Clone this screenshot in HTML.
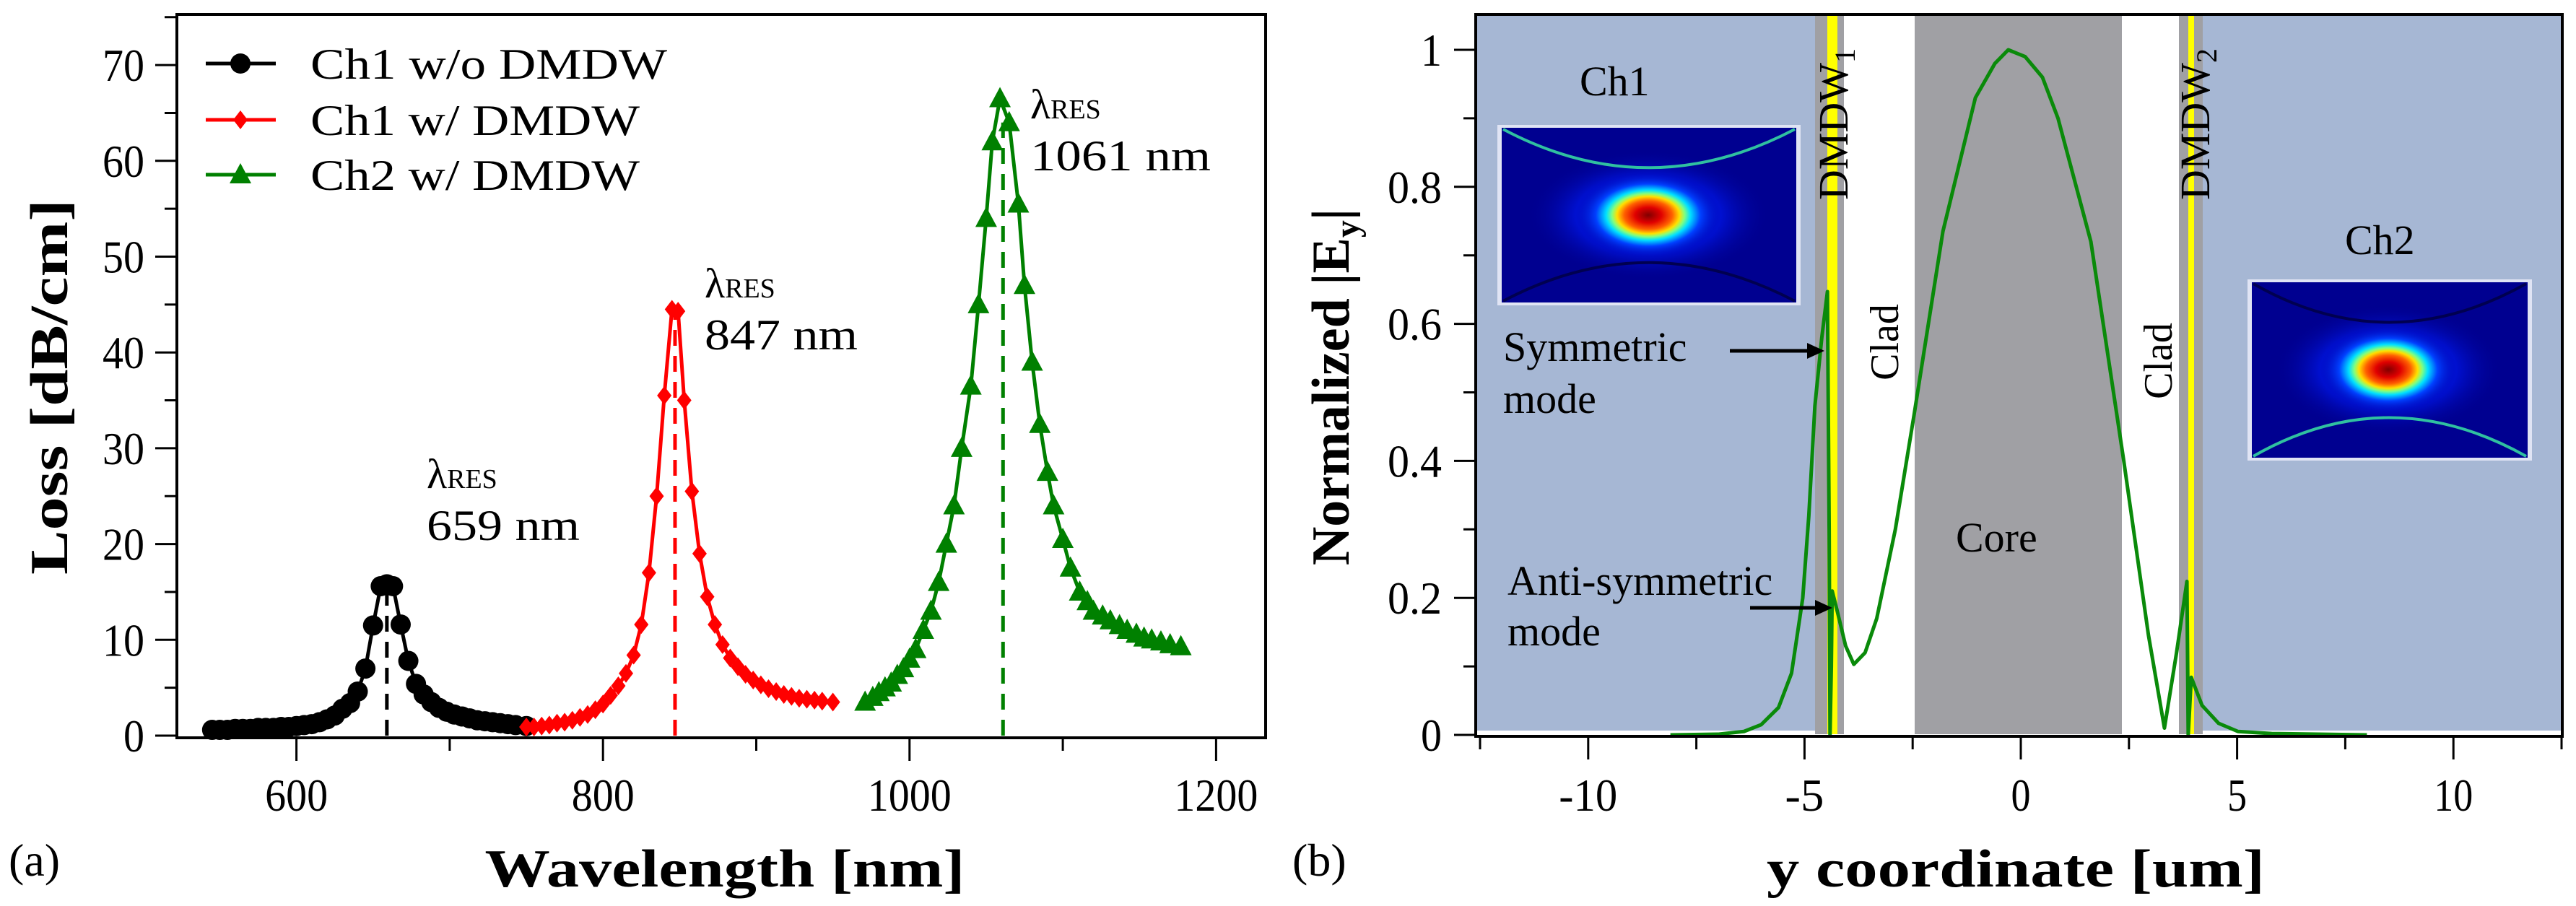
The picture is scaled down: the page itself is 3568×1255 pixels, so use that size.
<!DOCTYPE html>
<html><head><meta charset="utf-8"><style>
html,body{margin:0;padding:0;background:#fff}
svg{display:block}
text{font-family:"Liberation Serif","Times New Roman",Times,serif}
</style></head><body>
<svg id="svg" width="3568" height="1255" viewBox="0 0 3568 1255" xmlns="http://www.w3.org/2000/svg" font-family="Liberation Serif, Times New Roman, serif">
<defs>
<radialGradient id="blob" cx="0.5" cy="0.5" r="0.5">
<stop offset="0" stop-color="#800000"/><stop offset="0.18" stop-color="#e00000"/><stop offset="0.33" stop-color="#ff6000"/><stop offset="0.43" stop-color="#ffe000"/><stop offset="0.5" stop-color="#80ff80"/><stop offset="0.58" stop-color="#00e0ff"/><stop offset="0.72" stop-color="#0040ff"/><stop offset="1" stop-color="#0000a8" stop-opacity="0"/>
</radialGradient>
<radialGradient id="glow" cx="0.5" cy="0.5" r="0.5">
<stop offset="0" stop-color="#0030ff"/><stop offset="0.6" stop-color="#0010d0"/><stop offset="1" stop-color="#000090" stop-opacity="0"/>
</radialGradient>
</defs>
<g id="left"></g>
<g id="right"></g>
</svg>
<script>
// ---------- Left chart data ----------
const blackX=[545,550,555,560,565,570,575,580,585,590,595,600,605,610,615,620,625,630,635,640,645,650,655,659,663,668,673,678,683,688,693,698,703,708,713,718,723,728,733,738,743,750];
const blackY=[0.6,0.6,0.6,0.7,0.7,0.7,0.8,0.8,0.8,0.9,0.9,1.0,1.1,1.2,1.4,1.7,2.1,2.8,3.4,4.6,7.0,11.5,15.6,15.8,15.6,11.6,7.8,5.4,4.3,3.5,2.9,2.5,2.2,2.0,1.8,1.6,1.5,1.4,1.3,1.2,1.1,1.0];
const redX=[750,755,760,765,770,775,780,785,790,795,800,805,810,815,820,825,830,835,840,845,849,853,858,863,868,873,878,883,888,893,898,903,908,913,918,923,928,933,938,943,950];
const redY=[0.9,0.9,1.0,1.1,1.3,1.4,1.6,1.9,2.2,2.7,3.3,4.2,5.2,6.5,8.4,11.6,17,25,35.5,44.5,44.3,35,25.5,19,14.5,11.6,9.5,8.1,7.2,6.4,5.8,5.3,4.9,4.6,4.3,4.1,3.9,3.8,3.7,3.6,3.5];
const greenX=[971,976,980,984,988,992,996,1000,1004,1009,1014,1019,1024,1029,1034,1040,1045,1050,1054,1059,1065,1071,1075,1080,1085,1090,1094,1100,1105,1111,1116,1120,1126,1131,1137,1142,1148,1153,1158,1164,1170,1177];
const greenY=[3.5,4.0,4.5,5.0,5.5,6.3,7,8,9,11,13,16,20,24,30,36.5,45,54,62,66.5,64,55.5,47,39,32.5,27.5,24,20.5,17.5,15,14,13,12.5,12,11.5,11,10.6,10.2,10,9.8,9.5,9.3];
const resWl=[659,847,1061];
const resPeak=[15.8,44.5,64];
const resLabels=["659 nm","847 nm","1061 nm"];
const lossTicks=[0,10,20,30,40,50,60,70];
const wlTicks=[600,800,1000,1200];
// ---------- Right chart data ----------
const fieldX=[-8.1,-7,-6.4,-6,-5.6,-5.3,-5.04,-4.9,-4.76,-4.6,-4.47,-4.43,-4.41,-4.38,-4.36,-4.24,-4.05,-3.86,-3.6,-3.33,-2.9,-2.47,-1.8,-1.05,-0.6,-0.29,0.1,0.5,0.86,1.62,2.38,2.95,3.32,3.6,3.84,3.87,3.94,4.19,4.57,5.02,5.8,8];
const fieldY=[0,0.001,0.005,0.015,0.04,0.09,0.2,0.32,0.48,0.58,0.647,0.3,0,0.1,0.21,0.18,0.13,0.103,0.12,0.17,0.3,0.466,0.735,0.93,0.98,1.0,0.99,0.96,0.9,0.72,0.4,0.146,0.01,0.12,0.224,0,0.084,0.043,0.017,0.005,0.002,0];
const fieldXTicks=[-10,-5,0,5,10];
const fieldYTicks=[0,0.2,0.4,0.6,0.8,1];
const fieldYLabels=["0","0.2","0.4","0.6","0.8","1"];

const NS="http://www.w3.org/2000/svg";
function mk(parent,tag,attrs,txt){const e=document.createElementNS(NS,tag);for(const k in attrs)e.setAttribute(k,attrs[k]);if(txt!==undefined)e.textContent=txt;parent.appendChild(e);return e;}

// ===== LEFT =====
const L=document.getElementById('left');
const lx=v=>245+(v-522)*2.123, ly=v=>1019-v*13.27;
let el;
el=mk(L,'rect',{x:245,y:20,width:1508,height:1002,fill:'none',stroke:'#000','stroke-width':4});


for(let v=0;v<=75;v+=5){const maj=v%10===0;
 el=mk(L,'line',{x1:245-(maj?30:17),x2:245,y1:ly(v),y2:ly(v),stroke:'#000','stroke-width':3});
 
 }
lossTicks.forEach(v=>{const s=String(v);el=mk(L,'text',{x:200,y:ly(v)+22,'font-size':64,'text-anchor':'end',textLength:s.length*29,lengthAdjust:'spacingAndGlyphs'},s);
 
 });
for(let v=600;v<=1200;v+=100){const maj=v%200===0;
 el=mk(L,'line',{x1:lx(v),x2:lx(v),y1:1022,y2:1022+(maj?32:18),stroke:'#000','stroke-width':3});
 
 }
wlTicks.forEach(v=>{const s=String(v);el=mk(L,'text',{x:lx(v),y:1123,'font-size':64,'text-anchor':'middle',textLength:s.length*29,lengthAdjust:'spacingAndGlyphs'},s);
 
 });
el=mk(L,'text',{x:1004,y:1228,'font-size':74,'font-weight':'bold','text-anchor':'middle',textLength:665,lengthAdjust:'spacingAndGlyphs'},'Wavelength [nm]');


el=mk(L,'text',{x:0,y:0,'font-size':74,'font-weight':'bold','text-anchor':'middle',transform:'translate(93,536) rotate(-90)',textLength:520,lengthAdjust:'spacingAndGlyphs'},'Loss [dB/cm]');


el=mk(L,'text',{x:12,y:1213,'font-size':64},'(a)');



const seriesCol=['#000','#f00','#008000'];
const seriesData=[[blackX,blackY],[redX,redY],[greenX,greenY]];
function marker(g,type,x,y,col){
 if(type===0)return mk(g,'circle',{cx:x,cy:y,r:14,fill:col});
 if(type===1)return mk(g,'path',{d:`M${x} ${y-13}L${x+10} ${y}L${x} ${y+13}L${x-10} ${y}Z`,fill:col});
 return mk(g,'path',{d:`M${x} ${y-16}L${x+15} ${y+12}L${x-15} ${y+12}Z`,fill:col});}
const snames=['ch1-without-dmdw','ch1-with-dmdw','ch2-with-dmdw'];
seriesData.forEach((s,i)=>{
 const g=mk(L,'g',{});
 
 
 const pts=s[0].map((x,j)=>lx(x)+','+ly(s[1][j])).join(' ');
 mk(g,'polyline',{points:pts,fill:'none',stroke:seriesCol[i],'stroke-width':5});
 s[0].forEach((x,j)=>{const m=marker(g,i,lx(x),ly(s[1][j]),seriesCol[i]);
  
  });
 el=mk(L,'line',{x1:lx(resWl[i]),x2:lx(resWl[i]),y1:ly(0),y2:ly(resPeak[i]),stroke:seriesCol[i],'stroke-width':5,'stroke-dasharray':'22 14'});
 
 
});
const annPos=[[591,676],[976,412],[1427,164]];
const annLen=[212,212,250];
resLabels.forEach((t,i)=>{
 const [x,y]=annPos[i];
 el=mk(L,'text',{x:x,y:y,'font-size':58},'λ');
 
 
 mk(el,'tspan',{'font-size':38},'RES');
 el=mk(L,'text',{x:x,y:y+72,'font-size':60,textLength:annLen[i],lengthAdjust:'spacingAndGlyphs'},t);
 
 
});
const legNames=['Ch1 w/o DMDW','Ch1 w/ DMDW','Ch2 w/ DMDW'];
const legLen=[494,456,456];
legNames.forEach((t,i)=>{
 const y=[88,166,242][i];
 const g=mk(L,'g',{});
 
 
 mk(g,'line',{x1:285,x2:382,y1:y,y2:y,stroke:seriesCol[i],'stroke-width':5});
 marker(g,i,333,y,seriesCol[i]);
 mk(g,'text',{x:430,y:y+21,'font-size':60,textLength:legLen[i],lengthAdjust:'spacingAndGlyphs'},t);
});

// ===== RIGHT =====
const R=document.getElementById('right');
const rx=v=>2799+v*59.92, ry=v=>1018-v*949;
function rect(x,y,w,h,f,name){const e=mk(R,'rect',{x,y,width:w,height:h,fill:f});
 
 return e;}
rect(2046,22,468,990,'#a6b7d4','ch1-region');
rect(3051,22,496,990,'#a6b7d4','ch2-region');
rect(2514,22,40,995,'#a0a0a4','dmdw1-region');
rect(2531,22,14,995,'#ffff00','dmdw1-layer');
rect(2652,22,287,995,'#a0a0a4','core-region');
rect(3018,22,33,995,'#a0a0a4','dmdw2-region');
rect(3031,22,8,995,'#ffff00','dmdw2-layer');
function inset(x,y,w,h,cx,cy,name,topArcCol,botArcCol){
 const g=mk(R,'g',{});
 
 
 mk(g,'rect',{x:x,y:y,width:w,height:h,fill:'#e0e4f4'});
 mk(g,'rect',{x:x+6,y:y+4,width:w-12,height:h-8,fill:'#000090'});
 mk(g,'ellipse',{cx:cx,cy:cy,rx:w*0.4,ry:h*0.36,fill:'url(#glow)'});
 mk(g,'ellipse',{cx:cx,cy:cy,rx:w*0.24,ry:h*0.24,fill:'url(#blob)'});
 mk(g,'path',{d:`M${x+8} ${y+6} Q${cx} ${y+h*0.45} ${x+w-8} ${y+6}`,fill:'none',stroke:topArcCol,'stroke-width':4});
 mk(g,'path',{d:`M${x+8} ${y+h-6} Q${cx} ${y+h*0.55} ${x+w-8} ${y+h-6}`,fill:'none',stroke:botArcCol,'stroke-width':4});
}
inset(2074,173,420,250,2283,298,'ch1-mode-inset','#30c0a0','#000050');
inset(3113,387,394,251,3308,512,'ch2-mode-inset','#000050','#30c0a0');
el=mk(R,'polyline',{points:fieldX.map((x,j)=>rx(x)+','+ry(fieldY[j])).join(' '),fill:'none',stroke:'#0a8a0a','stroke-width':5,'stroke-linejoin':'round'});


el=mk(R,'rect',{x:2044,y:20,width:1505,height:1000,fill:'none',stroke:'#000','stroke-width':4});


for(let v=0;v<=1.05;v+=0.1){const maj=Math.round(v*10)%2===0;
 el=mk(R,'line',{x1:2044-(maj?30:17),x2:2044,y1:ry(v),y2:ry(v),stroke:'#000','stroke-width':3});
 
 }
fieldYTicks.forEach((v,i)=>{const s=fieldYLabels[i];el=mk(R,'text',{x:1997,y:ry(v)+22,'font-size':64,'text-anchor':'end',textLength:s.length===1?29:75,lengthAdjust:'spacingAndGlyphs'},s);
 
 });
for(let v=-12.5;v<=12.5;v+=2.5){const maj=Math.abs(v%5)<0.01;
 el=mk(R,'line',{x1:rx(v),x2:rx(v),y1:1020,y2:1020+(maj?32:18),stroke:'#000','stroke-width':3});
 
 }
fieldXTicks.forEach(v=>{const s=String(v);el=mk(R,'text',{x:rx(v),y:1123,'font-size':64,'text-anchor':'middle',textLength:s.length*27,lengthAdjust:'spacingAndGlyphs'},s);
 
 });
el=mk(R,'text',{x:2792,y:1228,'font-size':74,'font-weight':'bold','text-anchor':'middle',textLength:690,lengthAdjust:'spacingAndGlyphs'},'y coordinate [um]');


el=mk(R,'text',{x:0,y:0,'font-size':74,'font-weight':'bold','text-anchor':'middle',transform:'translate(1868,536) rotate(-90)'},'Normalized |E');


mk(el,'tspan',{'font-size':48,dy:14},'y');
mk(el,'tspan',{dy:-14},'|');
el=mk(R,'text',{x:1790,y:1213,'font-size':64},'(b)');


const labels=[['Ch1',2188,132],['Ch2',3248,352],['Core',2709,764],['Symmetric',2082,500],['mode',2082,572],['Anti-symmetric',2088,824],['mode',2088,894]];
labels.forEach(l=>{el=mk(R,'text',{x:l[1],y:l[2],'font-size':58},l[0]);
 
 });
[[2609,474],[2988,500]].forEach(p=>{el=mk(R,'text',{x:0,y:0,'font-size':56,'text-anchor':'middle',transform:`translate(${p[0]+20},${p[1]}) rotate(-90)`},'Clad');
 
 });
[[2539,'1'],[3040,'2']].forEach(p=>{el=mk(R,'text',{x:0,y:0,'font-size':58,'text-anchor':'middle',transform:`translate(${p[0]+20},172) rotate(-90)`},'DMDW');
 
 
 mk(el,'tspan',{'font-size':40,dy:10},p[1]);});
[[2396,2527,486],[2424,2538,842]].forEach(a=>{
 const g=mk(R,'g',{});
 
 
 mk(g,'line',{x1:a[0],x2:a[1]-18,y1:a[2],y2:a[2],stroke:'#000','stroke-width':5});
 mk(g,'path',{d:`M${a[1]} ${a[2]}L${a[1]-24} ${a[2]-11}L${a[1]-24} ${a[2]+11}Z`,fill:'#000'});
});
</script>
</body></html>
